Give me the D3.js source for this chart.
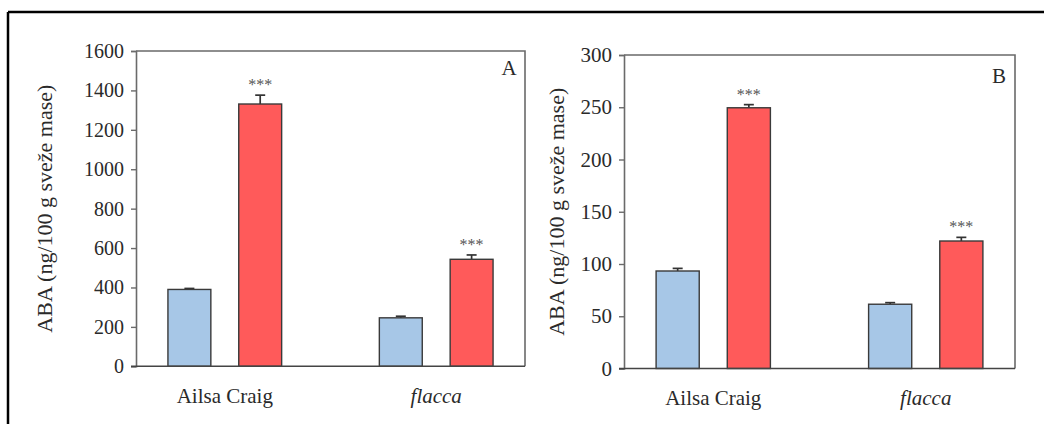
<!DOCTYPE html>
<html>
<head>
<meta charset="utf-8">
<script src="https://cdn.jsdelivr.net/npm/d3@7"></script>
<style>
  html, body { margin: 0; padding: 0; background: #fff; }
  svg { display: block; }
  svg text { font-family: "Liberation Serif", Tinos, "Times New Roman", Times, serif; fill: #2a2a2a; }
</style>
</head>
<body>
<svg id="chart" width="1044" height="424"></svg>
<script>
// Genotypes on the x axis
const genotypes = ["Ailsa Craig", "flacca"];
// Two treatments per genotype
const treatments = ["kontrola", "tretman"];

// Panel A: ABA content (ng/100 g fresh mass), mean and SE
const panelA_kontrola = [390, 246];
const panelA_kontrolaSE = [5, 8];
const panelA_tretman = [1331, 543];
const panelA_tretmanSE = [45, 22];
const panelA_ticks = [0, 200, 400, 600, 800, 1000, 1200, 1400, 1600];

// Panel B: ABA content (ng/100 g fresh mass), mean and SE
const panelB_kontrola = [93.3, 61.5];
const panelB_kontrolaSE = [2.5, 1.5];
const panelB_tretman = [249.5, 122];
const panelB_tretmanSE = [3, 3.5];
const panelB_ticks = [0, 50, 100, 150, 200, 250, 300];

// Significance marks above treated bars
const signif = ["***", "***"];

const yTitle = "ABA (ng/100 g sveže mase)";
const fills = { kontrola: "#a7c7e7", tretman: "#ff5a5a" };
const serif = "'Liberation Serif', Tinos, 'Times New Roman', Times, serif";

const svg = d3.select("#chart");

// outer frame (top and left edges visible)
svg.append("line").attr("x1", 8).attr("y1", 12).attr("x2", 1044).attr("y2", 12)
  .attr("stroke", "#000").attr("stroke-width", 2.5);
svg.append("line").attr("x1", 8).attr("y1", 12).attr("x2", 8).attr("y2", 424)
  .attr("stroke", "#000").attr("stroke-width", 2.5);

function drawPanel(opt) {
  const { left, right, top, bottom, ticks, kontrola, kontrolaSE, tretman, tretmanSE,
          letter, letterDy, tickSize, titleX } = opt;
  const g = svg.append("g");

  const y = d3.scaleLinear()
    .domain([0, d3.max(ticks)])
    .range([bottom, top]);

  const x0 = d3.scaleBand()
    .domain(genotypes)
    .range([left, right])
    .paddingInner(0.3)
    .paddingOuter(0.07);

  const x1 = d3.scaleBand()
    .domain(treatments)
    .range([0, x0.bandwidth()])
    .paddingInner(0.394)
    .paddingOuter(0.242);

  const rows = genotypes.map((gen, i) => ({
    gen,
    bars: [
      { key: "kontrola", v: kontrola[i], se: kontrolaSE[i] },
      { key: "tretman", v: tretman[i], se: tretmanSE[i], mark: signif[i] }
    ]
  }));

  // plot frame (top and right sides)
  g.append("path")
    .attr("d", `M${left},${top}H${right}V${bottom}`)
    .attr("fill", "none").attr("stroke", "#6a6a6a").attr("stroke-width", 1.6);

  const groups = g.selectAll("g.grp").data(rows).join("g")
    .attr("class", "grp")
    .attr("transform", d => `translate(${x0(d.gen)},0)`);

  const bar = groups.selectAll("g.bar").data(d => d.bars).join("g").attr("class", "bar");

  // error bars (upper half only)
  bar.append("line")
    .attr("x1", d => x1(d.key) + x1.bandwidth() / 2)
    .attr("x2", d => x1(d.key) + x1.bandwidth() / 2)
    .attr("y1", d => y(d.v))
    .attr("y2", d => y(d.v + d.se))
    .attr("stroke", "#333").attr("stroke-width", 1.7);
  bar.append("line")
    .attr("x1", d => x1(d.key) + x1.bandwidth() / 2 - 5)
    .attr("x2", d => x1(d.key) + x1.bandwidth() / 2 + 5)
    .attr("y1", d => y(d.v + d.se))
    .attr("y2", d => y(d.v + d.se))
    .attr("stroke", "#333").attr("stroke-width", 1.7);

  bar.append("rect")
    .attr("x", d => x1(d.key))
    .attr("width", x1.bandwidth())
    .attr("y", d => y(d.v))
    .attr("height", d => y(0) - y(d.v))
    .attr("fill", d => fills[d.key])
    .attr("stroke", "#3a3a3a").attr("stroke-width", 1.4);

  bar.filter(d => d.mark)
    .append("text")
    .attr("x", d => x1(d.key) + x1.bandwidth() / 2)
    .attr("y", d => y(d.v + d.se) - 5)
    .attr("text-anchor", "middle")
    .attr("font-size", 16)
    .style("fill", "#555")
    .text(d => d.mark);

  // y axis
  const yAxis = d3.axisLeft(y).tickValues(ticks).tickSize(5).tickPadding(7)
    .tickFormat(d3.format("d"));
  const ya = g.append("g").attr("transform", `translate(${left},0)`).call(yAxis)
    .attr("font-family", serif);
  ya.select(".domain").attr("stroke", "#6a6a6a").attr("stroke-width", 1.6);
  ya.selectAll(".tick line").attr("stroke", "#6a6a6a").attr("stroke-width", 1.4);
  ya.selectAll(".tick text").attr("font-size", tickSize).attr("fill", "#2a2a2a");

  // x axis (baseline with category labels, no ticks)
  const xAxis = d3.axisBottom(x0).tickSize(0).tickPadding(22);
  const xa = g.append("g").attr("transform", `translate(0,${bottom})`).call(xAxis)
    .attr("font-family", serif);
  xa.select(".domain").attr("stroke", "#444").attr("stroke-width", 1.6)
    .attr("d", `M${left - 5},0H${right}`);
  xa.selectAll(".tick text").attr("font-size", 21).attr("fill", "#2a2a2a")
    .attr("font-style", d => d === "flacca" ? "italic" : "normal");

  // y title
  g.append("text")
    .attr("transform", `translate(${titleX},${(top + bottom) / 2}) rotate(-90)`)
    .attr("text-anchor", "middle")
    .attr("font-size", 22)
    .text(yTitle);

  // panel letter
  g.append("text")
    .attr("x", right - 16)
    .attr("y", top + letterDy)
    .attr("text-anchor", "middle")
    .attr("font-size", 21)
    .text(letter);
}

drawPanel({
  left: 136, right: 525, top: 51, bottom: 366.3,
  ticks: panelA_ticks,
  kontrola: panelA_kontrola, kontrolaSE: panelA_kontrolaSE,
  tretman: panelA_tretman, tretmanSE: panelA_tretmanSE,
  letter: "A", letterDy: 24, tickSize: 20, titleX: 52
});

drawPanel({
  left: 624, right: 1015, top: 55, bottom: 368.5,
  ticks: panelB_ticks,
  kontrola: panelB_kontrola, kontrolaSE: panelB_kontrolaSE,
  tretman: panelB_tretman, tretmanSE: panelB_tretmanSE,
  letter: "B", letterDy: 28, tickSize: 21, titleX: 564
});
</script>
</body>
</html>
